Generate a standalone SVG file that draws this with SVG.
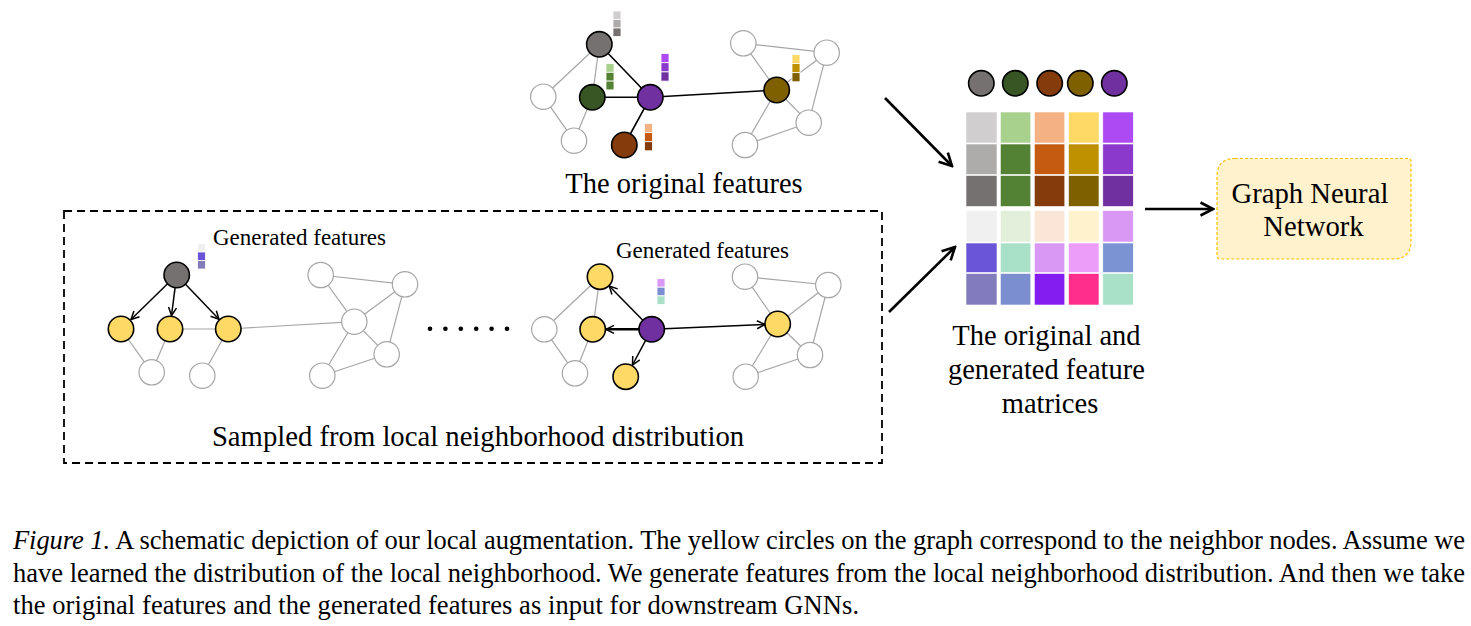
<svg xmlns="http://www.w3.org/2000/svg" width="1471" height="626" viewBox="0 0 1471 626">
<style>
.t{font-family:"Liberation Serif","Times New Roman",serif;fill:#000}
.wn{fill:#fff;stroke:#a6a6a6;stroke-width:1.2}
.cn{stroke:#000;stroke-width:1.6}
.ge{stroke:#a6a6a6;stroke-width:1.2;fill:none}
.be{stroke:#000;stroke-width:1.6;fill:none}
.ae{stroke:#000;stroke-width:1.5;fill:none;marker-end:url(#sa)}
.big{stroke:#000;stroke-width:2.6;fill:none;marker-end:url(#ba)}
.sq{stroke:#fff;stroke-width:0.8}
.mx{stroke:#fff;stroke-width:0.6}
</style>
<defs>
<marker id="sa" viewBox="0 0 10 10" refX="9" refY="5" markerWidth="10" markerHeight="10" markerUnits="userSpaceOnUse" orient="auto">
<path d="M1,1 L9,5 L1,9" fill="none" stroke="#000" stroke-width="1.5"/>
</marker>
<marker id="ba" viewBox="0 0 16 16" refX="14.5" refY="8" markerWidth="16" markerHeight="16" markerUnits="userSpaceOnUse" orient="auto">
<path d="M2,1.5 L14.5,8 L2,14.5" fill="none" stroke="#000" stroke-width="2.6"/>
</marker>
</defs>
<rect width="1471" height="626" fill="#fff"/>

<!-- connectors -->
<g id="connectors">
  <!-- top graph -->
  <line class="ge" x1="599.3" y1="44.3" x2="543.3" y2="96.7"/>
  <line class="ge" x1="599.3" y1="44.3" x2="592.3" y2="97.3"/>
  <line class="ge" x1="592.3" y1="97.3" x2="574" y2="140.7"/>
  <line class="ge" x1="543.3" y1="96.7" x2="574" y2="140.7"/>
  <line class="ge" x1="743.3" y1="43.3" x2="826.7" y2="52.7"/>
  <line class="ge" x1="743.3" y1="43.3" x2="776.7" y2="90"/>
  <line class="ge" x1="826.7" y1="52.7" x2="776.7" y2="90"/>
  <line class="ge" x1="826.7" y1="52.7" x2="808.7" y2="122.7"/>
  <line class="ge" x1="776.7" y1="90" x2="808.7" y2="122.7"/>
  <line class="ge" x1="776.7" y1="90" x2="745" y2="145"/>
  <line class="ge" x1="745" y1="145" x2="808.7" y2="122.7"/>
  <line class="be" x1="599.3" y1="44.3" x2="650.3" y2="97.3"/>
  <line class="be" x1="592.3" y1="97.3" x2="650.3" y2="97.3"/>
  <line class="be" x1="650.3" y1="97.3" x2="624.3" y2="145"/>
  <line class="be" x1="650.3" y1="97.3" x2="776.7" y2="90"/>
  <!-- bottom-left graph -->
  <line class="ge" x1="121" y1="329" x2="151.7" y2="372.3"/>
  <line class="ge" x1="170" y1="329" x2="151.7" y2="372.3"/>
  <line class="ge" x1="170" y1="329" x2="228.3" y2="329"/>
  <line class="ge" x1="228.3" y1="329" x2="202.3" y2="375.7"/>
  <line class="ge" x1="228.3" y1="329" x2="354.3" y2="321.7"/>
  <line class="ge" x1="354.3" y1="321.7" x2="320.7" y2="275"/>
  <line class="ge" x1="354.3" y1="321.7" x2="405" y2="284.3"/>
  <line class="ge" x1="320.7" y1="275" x2="405" y2="284.3"/>
  <line class="ge" x1="354.3" y1="321.7" x2="386.7" y2="354.3"/>
  <line class="ge" x1="354.3" y1="321.7" x2="322.3" y2="375.7"/>
  <line class="ge" x1="405" y1="284.3" x2="386.7" y2="354.3"/>
  <line class="ge" x1="322.3" y1="375.7" x2="386.7" y2="354.3"/>
  <line class="ae" x1="167.6" y1="283.8" x2="131" y2="319.5"/>
  <line class="ae" x1="175.1" y1="287.6" x2="171.5" y2="315.5"/>
  <line class="ae" x1="185.5" y1="284.2" x2="219" y2="319.2"/>
  <!-- bottom-right graph -->
  <line class="ge" x1="544.3" y1="329.3" x2="600" y2="276.7"/>
  <line class="ge" x1="544.3" y1="329.3" x2="575" y2="373.3"/>
  <line class="ge" x1="600" y1="276.7" x2="592.7" y2="329.3"/>
  <line class="ge" x1="592.7" y1="329.3" x2="575" y2="373.3"/>
  <line class="ge" x1="745" y1="276.7" x2="828.3" y2="285"/>
  <line class="ge" x1="745" y1="276.7" x2="777.7" y2="324"/>
  <line class="ge" x1="828.3" y1="285" x2="777.7" y2="324"/>
  <line class="ge" x1="828.3" y1="285" x2="810" y2="355"/>
  <line class="ge" x1="777.7" y1="324" x2="810" y2="355"/>
  <line class="ge" x1="777.7" y1="324" x2="745.7" y2="376.7"/>
  <line class="ge" x1="745.7" y1="376.7" x2="810" y2="355"/>
  <line class="ae" x1="642.8" y1="320.3" x2="609.2" y2="286"/>
  <line class="ae" x1="639" y1="329.3" x2="606" y2="329.3" style="stroke-width:2.4"/>
  <line class="ae" x1="645.6" y1="340.4" x2="632.5" y2="365"/>
  <line class="ae" x1="664.4" y1="328.8" x2="765" y2="324.4"/>
  <!-- big arrows -->
  <line class="big" x1="885" y1="98" x2="952" y2="166"/>
  <line class="big" x1="889" y1="312" x2="955" y2="247"/>
  <line class="big" x1="1145" y1="209" x2="1213" y2="209"/>
</g>

<!-- top graph nodes -->
<g id="t-w1"><circle class="wn" cx="543.3" cy="96.7" r="12.7"/></g>
<g id="t-w2"><circle class="wn" cx="574" cy="140.7" r="12.7"/></g>
<g id="t-r1"><circle class="wn" cx="743.3" cy="43.3" r="12.7"/></g>
<g id="t-r2"><circle class="wn" cx="826.7" cy="52.7" r="12.7"/></g>
<g id="t-r3"><circle class="wn" cx="808.7" cy="122.7" r="12.7"/></g>
<g id="t-r4"><circle class="wn" cx="745" cy="145" r="12.7"/></g>
<g id="t-gray"><circle class="cn" cx="599.3" cy="44.3" r="12.7" fill="#767171"/>
  <rect class="sq" x="613" y="11" width="8" height="8.5" fill="#d0cece"/>
  <rect class="sq" x="613" y="19.5" width="8" height="8.5" fill="#aeabab"/>
  <rect class="sq" x="613" y="28" width="8" height="8.5" fill="#767171"/></g>
<g id="t-green"><circle class="cn" cx="592.3" cy="97.3" r="12.7" fill="#375623"/>
  <rect class="sq" x="606" y="63.5" width="8" height="8.8" fill="#a9d18e"/>
  <rect class="sq" x="606" y="72.3" width="8" height="8.8" fill="#548235"/>
  <rect class="sq" x="606" y="81.1" width="8" height="8.8" fill="#548235"/></g>
<g id="t-purple"><circle class="cn" cx="650.3" cy="97.3" r="12.7" fill="#7030a0"/>
  <rect class="sq" x="661" y="53.5" width="8" height="9.2" fill="#ad4af4"/>
  <rect class="sq" x="661" y="62.7" width="8" height="9.2" fill="#8b38cc"/>
  <rect class="sq" x="661" y="71.9" width="8" height="9.2" fill="#7030a0"/></g>
<g id="t-brown"><circle class="cn" cx="624.3" cy="145" r="12.7" fill="#843c0c"/>
  <rect class="sq" x="644.5" y="123.5" width="8" height="9.1" fill="#f4b183"/>
  <rect class="sq" x="644.5" y="132.6" width="8" height="9.1" fill="#c55a11"/>
  <rect class="sq" x="644.5" y="141.7" width="8" height="9.1" fill="#843c0c"/></g>
<g id="t-olive"><circle class="cn" cx="776.7" cy="90" r="12.7" fill="#7f6000"/>
  <rect class="sq" x="792" y="54.5" width="8" height="9.1" fill="#ffd966"/>
  <rect class="sq" x="792" y="63.6" width="8" height="9.1" fill="#bf9000"/>
  <rect class="sq" x="792" y="72.7" width="8" height="9.1" fill="#7f6000"/></g>
<text class="t" x="684" y="193" font-size="28.5" text-anchor="middle">The original features</text>

<!-- dashed box -->
<g id="sampled-box">
  <rect x="64" y="211" width="818" height="252" fill="none" stroke="#000" stroke-width="1.8" stroke-dasharray="8,5"/>
  <text class="t" x="478" y="446" font-size="28.7" text-anchor="middle">Sampled from local neighborhood distribution</text>
</g>

<!-- bottom-left graph nodes -->
<g id="l-w1"><circle class="wn" cx="151.7" cy="372.3" r="12.7"/></g>
<g id="l-w2"><circle class="wn" cx="202.3" cy="375.7" r="12.7"/></g>
<g id="l-r1"><circle class="wn" cx="320.7" cy="275" r="12.7"/></g>
<g id="l-r2"><circle class="wn" cx="405" cy="284.3" r="12.7"/></g>
<g id="l-c"><circle class="wn" cx="354.3" cy="321.7" r="12.7"/></g>
<g id="l-r3"><circle class="wn" cx="386.7" cy="354.3" r="12.7"/></g>
<g id="l-r4"><circle class="wn" cx="322.3" cy="375.7" r="12.7"/></g>
<g id="l-y1"><circle class="cn" cx="121" cy="329" r="12.7" fill="#ffd966"/></g>
<g id="l-y2"><circle class="cn" cx="170" cy="329" r="12.7" fill="#ffd966"/></g>
<g id="l-y3"><circle class="cn" cx="228.3" cy="329" r="12.7" fill="#ffd966"/></g>
<g id="l-gray"><circle class="cn" cx="176.7" cy="275" r="12.7" fill="#767171"/>
  <rect class="sq" x="197.5" y="243.5" width="8" height="8.5" fill="#f0f0f0"/>
  <rect class="sq" x="197.5" y="252" width="8" height="8.5" fill="#6a55d8"/>
  <rect class="sq" x="197.5" y="260.5" width="8" height="8.5" fill="#827cbc"/></g>
<text class="t" x="213" y="245" font-size="23">Generated features</text>

<!-- dots -->
<g id="ellipsis" fill="#000">
  <circle cx="430" cy="328.7" r="2.3"/><circle cx="445.4" cy="328.7" r="2.3"/><circle cx="460.8" cy="328.7" r="2.3"/>
  <circle cx="476.2" cy="328.7" r="2.3"/><circle cx="491.6" cy="328.7" r="2.3"/><circle cx="507" cy="328.7" r="2.3"/>
</g>

<!-- bottom-right graph nodes -->
<g id="r-w1"><circle class="wn" cx="544.3" cy="329.3" r="12.7"/></g>
<g id="r-w2"><circle class="wn" cx="575" cy="373.3" r="12.7"/></g>
<g id="r-r1"><circle class="wn" cx="745" cy="276.7" r="12.7"/></g>
<g id="r-r2"><circle class="wn" cx="828.3" cy="285" r="12.7"/></g>
<g id="r-r3"><circle class="wn" cx="810" cy="355" r="12.7"/></g>
<g id="r-r4"><circle class="wn" cx="745.7" cy="376.7" r="12.7"/></g>
<g id="r-yt"><circle class="cn" cx="600" cy="276.7" r="12.7" fill="#ffd966"/></g>
<g id="r-ym"><circle class="cn" cx="592.7" cy="329.3" r="12.7" fill="#ffd966"/></g>
<g id="r-yb"><circle class="cn" cx="625.7" cy="376.7" r="12.7" fill="#ffd966"/></g>
<g id="r-yr"><circle class="cn" cx="777.7" cy="324" r="12.7" fill="#ffd966"/></g>
<g id="r-p"><circle class="cn" cx="651.7" cy="329.3" r="12.7" fill="#7030a0"/>
  <rect class="sq" x="657" y="278.5" width="8" height="8.7" fill="#da98f5"/>
  <rect class="sq" x="657" y="287.2" width="8" height="8.7" fill="#7b8fd0"/>
  <rect class="sq" x="657" y="295.9" width="8" height="8.7" fill="#a9e0c8"/></g>
<text class="t" x="616" y="258" font-size="23">Generated features</text>

<!-- matrix -->
<g id="matrix">
  <circle class="cn" cx="981.3" cy="83.3" r="12.7" fill="#767171"/>
  <circle class="cn" cx="1015.3" cy="83.3" r="12.7" fill="#375623"/>
  <circle class="cn" cx="1049.7" cy="83.3" r="12.7" fill="#843c0c"/>
  <circle class="cn" cx="1080.3" cy="83.3" r="12.7" fill="#7f6000"/>
  <circle class="cn" cx="1114.3" cy="83.3" r="12.7" fill="#7030a0"/>
  <!-- row 1 -->
  <rect class="mx" x="966" y="112" width="31" height="31" fill="#d0cece"/>
  <rect class="mx" x="1000.3" y="112" width="30.5" height="31" fill="#a9d18e"/>
  <rect class="mx" x="1034.3" y="112" width="30.5" height="31" fill="#f4b183"/>
  <rect class="mx" x="1068.5" y="112" width="30.5" height="31" fill="#ffd966"/>
  <rect class="mx" x="1102.8" y="112" width="30.5" height="31" fill="#ad4af4"/>
  <!-- row 2 -->
  <rect class="mx" x="966" y="144" width="31" height="30.5" fill="#aeabab"/>
  <rect class="mx" x="1000.3" y="144" width="30.5" height="30.5" fill="#548235"/>
  <rect class="mx" x="1034.3" y="144" width="30.5" height="30.5" fill="#c55a11"/>
  <rect class="mx" x="1068.5" y="144" width="30.5" height="30.5" fill="#bf9000"/>
  <rect class="mx" x="1102.8" y="144" width="30.5" height="30.5" fill="#8b38cc"/>
  <!-- row 3 -->
  <rect class="mx" x="966" y="175.5" width="31" height="31" fill="#767171"/>
  <rect class="mx" x="1000.3" y="175.5" width="30.5" height="31" fill="#548235"/>
  <rect class="mx" x="1034.3" y="175.5" width="30.5" height="31" fill="#843c0c"/>
  <rect class="mx" x="1068.5" y="175.5" width="30.5" height="31" fill="#7f6000"/>
  <rect class="mx" x="1102.8" y="175.5" width="30.5" height="31" fill="#7030a0"/>
  <!-- row 4 -->
  <rect class="mx" x="966" y="210.5" width="31" height="31.5" fill="#f0f0f0"/>
  <rect class="mx" x="1000.3" y="210.5" width="30.5" height="31.5" fill="#e2efda"/>
  <rect class="mx" x="1034.3" y="210.5" width="30.5" height="31.5" fill="#fbe5d6"/>
  <rect class="mx" x="1068.5" y="210.5" width="30.5" height="31.5" fill="#fff2cc"/>
  <rect class="mx" x="1102.8" y="210.5" width="30.5" height="31.5" fill="#da98f5"/>
  <!-- row 5 -->
  <rect class="mx" x="966" y="243" width="31" height="29.5" fill="#6a55d8"/>
  <rect class="mx" x="1000.3" y="243" width="30.5" height="29.5" fill="#a9e0c8"/>
  <rect class="mx" x="1034.3" y="243" width="30.5" height="29.5" fill="#da98f5"/>
  <rect class="mx" x="1068.5" y="243" width="30.5" height="29.5" fill="#ec9cf9"/>
  <rect class="mx" x="1102.8" y="243" width="30.5" height="29.5" fill="#7b93d2"/>
  <!-- row 6 -->
  <rect class="mx" x="966" y="273.5" width="31" height="31.5" fill="#827cbc"/>
  <rect class="mx" x="1000.3" y="273.5" width="30.5" height="31.5" fill="#7b8fd0"/>
  <rect class="mx" x="1034.3" y="273.5" width="30.5" height="31.5" fill="#841ef0"/>
  <rect class="mx" x="1068.5" y="273.5" width="30.5" height="31.5" fill="#ff2e8c"/>
  <rect class="mx" x="1102.8" y="273.5" width="30.5" height="31.5" fill="#a9e0c8"/>
  <text class="t" font-size="28.5" text-anchor="middle">
    <tspan x="1050" y="345">The original and</tspan>
    <tspan x="1050" y="379">generated feature</tspan>
    <tspan x="1050" y="413">matrices</tspan>
  </text>
</g>

<!-- GNN box -->
<g id="gnn">
  <path d="M1235,158.5 L1408,158.5 Q1411,158.5 1411,161.5 L1411,241 Q1411,259 1393,259 L1220,259 Q1217,259 1217,256 L1217,176.5 Q1217,158.5 1235,158.5 Z" fill="#fff2cc" stroke="#ffc000" stroke-width="1.2" stroke-dasharray="3,2"/>
  <text class="t" font-size="28.7" text-anchor="middle">
    <tspan x="1313.5" y="203">Graph Neural</tspan>
    <tspan x="1313.5" y="236">Network</tspan>
  </text>
</g>

<!-- caption -->
<g id="caption" class="t" font-size="26.5">
  <text x="13" y="549" textLength="1452" lengthAdjust="spacing"><tspan font-style="italic">Figure 1.</tspan> A schematic depiction of our local augmentation. The yellow circles on the graph correspond to the neighbor nodes. Assume we</text>
  <text x="13" y="582" textLength="1452" lengthAdjust="spacing">have learned the distribution of the local neighborhood. We generate features from the local neighborhood distribution. And then we take</text>
  <text x="13" y="614" textLength="846" lengthAdjust="spacing">the original features and the generated features as input for downstream GNNs.</text>
</g>
</svg>
